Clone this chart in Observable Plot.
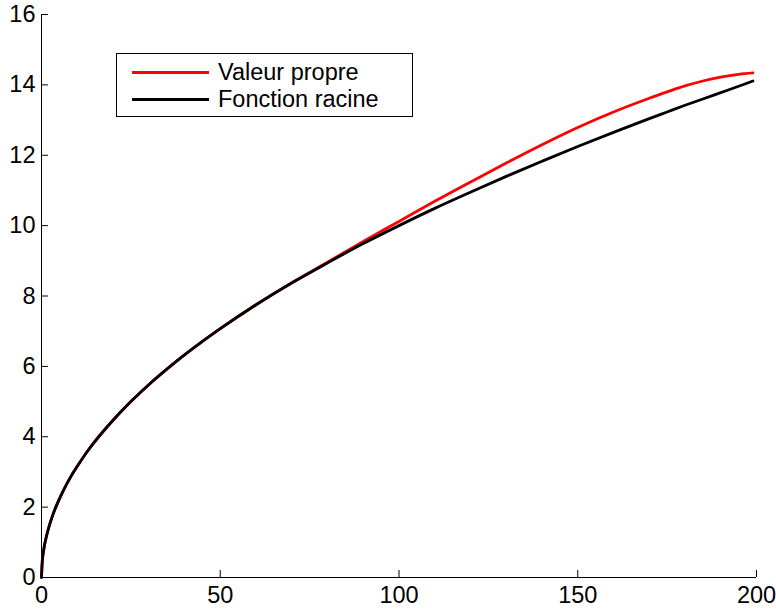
<!DOCTYPE html>
<html>
<head>
<meta charset="utf-8">
<script src="https://cdn.jsdelivr.net/npm/d3@7"></script>
<script src="https://cdn.jsdelivr.net/npm/@observablehq/plot@0.6"></script>
<style>
  body { margin: 0; background: #fff; }
  #wrap { position: relative; width: 776px; height: 611px; }
  #legend {
    position: absolute; left: 116px; top: 53px; width: 295px; height: 62px;
    border: 1px solid #000; background: #fff; box-sizing: content-box;
    font-family: "Liberation Sans", Arial, Helvetica, sans-serif; font-size: 23.5px; color: #000;
  }
  .row { position: absolute; left: 15px; height: 28px; display: flex; align-items: center; white-space: nowrap; }
  .swatch { width: 77px; height: 3px; margin-right: 9px; }
</style>
</head>
<body>
<div id="wrap"></div>
<script>
// x positions
const xValues = [0, 0.25, 0.5, 1, 2, 3, 4, 6, 8, 10, 13, 16, 20, 25, 30, 36, 42, 50, 60, 70, 80, 90, 100, 110, 120, 130, 140, 150, 160, 170, 175, 180, 185, 190, 195, 199];
// "Fonction racine" (black)
const rootValues = [0, 0.5, 0.71, 1, 1.41, 1.73, 2, 2.45, 2.83, 3.16, 3.61, 4, 4.47, 5, 5.48, 6, 6.48, 7.07, 7.75, 8.37, 8.94, 9.49, 10, 10.49, 10.95, 11.4, 11.83, 12.25, 12.65, 13.04, 13.23, 13.42, 13.6, 13.78, 13.96, 14.11];
// "Valeur propre" (red)
const eigenValues = [0, 0.5, 0.71, 1, 1.41, 1.73, 2, 2.45, 2.83, 3.16, 3.61, 4, 4.47, 5, 5.48, 6, 6.48, 7.07, 7.75, 8.38, 8.96, 9.55, 10.12, 10.69, 11.24, 11.78, 12.3, 12.79, 13.23, 13.62, 13.8, 13.97, 14.11, 14.22, 14.3, 14.34];
const xTicks = [0, 50, 100, 150, 200];
const yTicks = [0, 2, 4, 6, 8, 10, 12, 14, 16];
const seriesNames = ["Valeur propre", "Fonction racine"];
const seriesColors = ["#ff0000", "#000000"];

const rows = [];
xValues.forEach((x, i) => {
  rows.push({x, y: eigenValues[i], s: seriesNames[0]});
});
xValues.forEach((x, i) => {
  rows.push({x, y: rootValues[i], s: seriesNames[1]});
});

const font = '"Liberation Sans", Arial, Helvetica, sans-serif';

const chart = Plot.plot({
  width: 776,
  height: 611,
  marginLeft: 41,
  marginRight: 20,
  marginTop: 14,
  marginBottom: 34,
  style: { fontFamily: font, fontSize: "23.5px", background: "#fff", color: "#000", overflow: "visible" },
  x: { domain: [0, 200], ticks: xTicks, label: null },
  y: { domain: [0, 16], ticks: yTicks, label: null },
  color: { domain: seriesNames, range: seriesColors },
  marks: [
    Plot.axisX({ ticks: xTicks, tickSize: 0, tickPadding: 9, label: null, fontSize: 23.5 }),
    Plot.axisY({ ticks: yTicks, tickSize: 0, tickPadding: 6, label: null, fontSize: 23.5 }),
    Plot.axisX({ ticks: xTicks, tickSize: -7, tickFormat: () => "", label: null }),
    Plot.axisY({ ticks: yTicks, tickSize: -7, tickFormat: () => "", label: null }),
    Plot.ruleX([0], { stroke: "#000", strokeWidth: 1 }),
    Plot.ruleY([0], { stroke: "#000", strokeWidth: 1 }),
    Plot.line(rows, { x: "x", y: "y", z: "s", stroke: "s", strokeWidth: 2.8, curve: "catmull-rom" })
  ]
});

const wrap = document.getElementById("wrap");
wrap.appendChild(chart);

const legend = document.createElement("div");
legend.id = "legend";
seriesNames.forEach((name, i) => {
  const row = document.createElement("div");
  row.className = "row";
  row.style.top = (i === 0 ? 4 : 31) + "px";
  const sw = document.createElement("span");
  sw.className = "swatch";
  sw.style.background = seriesColors[i];
  const tx = document.createElement("span");
  tx.textContent = name;
  row.appendChild(sw);
  row.appendChild(tx);
  legend.appendChild(row);
});
wrap.appendChild(legend);
</script>
</body>
</html>
